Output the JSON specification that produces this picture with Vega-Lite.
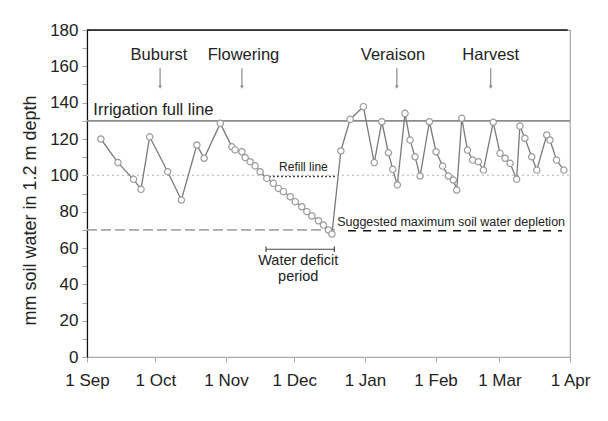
{
  "$schema": "https://vega.github.io/schema/vega-lite/v6.json",
  "width": 483,
  "height": 327,
  "autosize": {"type": "none"},
  "padding": {"left": 87, "top": 30, "right": 38, "bottom": 64},
  "config": {
    "font": "Liberation Sans",
    "view": {"stroke": "#aaaaaa", "strokeWidth": 1.2},
    "text": {"font": "Liberation Sans", "color": "#222222"}
  },
  "encoding": {
    "x": {
      "field": "date", "type": "temporal",
      "scale": {"domain": [{"year": 2022, "month": 9, "date": 1}, {"year": 2023, "month": 4, "date": 1}]},
      "axis": {
        "title": null,
        "values": [
          {"year": 2022, "month": 9, "date": 1}, {"year": 2022, "month": 10, "date": 1},
          {"year": 2022, "month": 11, "date": 1}, {"year": 2022, "month": 12, "date": 1},
          {"year": 2023, "month": 1, "date": 1}, {"year": 2023, "month": 2, "date": 1},
          {"year": 2023, "month": 3, "date": 1}, {"year": 2023, "month": 4, "date": 1}
        ],
        "format": "%-d %b",
        "grid": false,
        "domainColor": "#aaaaaa", "domainWidth": 1.2,
        "tickColor": "#aaaaaa", "tickSize": 5,
        "labelFontSize": 17, "labelColor": "#222222", "labelPadding": 10,
        "labelFlush": false, "labelOverlap": false
      }
    },
    "y": {
      "field": "value", "type": "quantitative",
      "scale": {"domain": [0, 180], "nice": false},
      "axis": {
        "title": "mm soil water in 1.2 m depth",
        "values": [0, 10, 20, 30, 40, 50, 60, 70, 80, 90, 100, 110, 120, 130, 140, 150, 160, 170, 180],
        "labelExpr": "datum.value % 20 === 0 ? datum.label : ''",
        "grid": false,
        "domainColor": "#111111", "domainWidth": 1.2,
        "tickColor": "#aaaaaa", "tickSize": 5,
        "labelFontSize": 17, "labelColor": "#222222", "labelPadding": 4,
        "titleFontSize": 18, "titleFontWeight": "normal", "titleColor": "#222222",
        "titleX": -52, "titleY": 180, "titleAngle": -90, "titleAlign": "center", "titleBaseline": "alphabetic"
      }
    }
  },
  "layer": [
    {
      "data": {"values": [{"date": "2022-09-01T00:00", "date2": "2023-04-01T00:00", "value": 130}]},
      "mark": {"type": "rule", "color": "#8c8c8c", "strokeWidth": 1.6},
      "encoding": {"x2": {"field": "date2"}}
    },
    {
      "data": {"values": [{"date": "2022-09-01T00:00", "date2": "2023-04-01T00:00", "value": 100}]},
      "mark": {"type": "rule", "color": "#c4c4c4", "strokeWidth": 1.4, "strokeDash": [2, 3]},
      "encoding": {"x2": {"field": "date2"}}
    },
    {
      "data": {"values": [{"date": "2022-09-01T00:00", "date2": "2022-12-19T00:00", "value": 70}]},
      "mark": {"type": "rule", "color": "#a8a8a8", "strokeWidth": 1.6, "strokeDash": [10, 4]},
      "encoding": {"x2": {"field": "date2"}}
    },
    {
      "data": {"values": [{"date": "2022-11-18T05:00", "date2": "2022-12-18T22:00", "value": 99.3}]},
      "mark": {"type": "rule", "color": "#111111", "strokeWidth": 1.5, "strokeDash": [1.5, 2.5]},
      "encoding": {"x2": {"field": "date2"}}
    },
    {
      "data": {"values": [{"date": "2022-12-24T14:00", "date2": "2023-03-28T12:00", "value": 69.5}]},
      "mark": {"type": "rule", "color": "#111111", "strokeWidth": 1.3, "strokeDash": [8, 7]},
      "encoding": {"x2": {"field": "date2"}}
    },
    {
      "data": {"values": [{"date": "2022-09-01T00:00", "date2": "2023-03-31T00:00", "value": 180}]},
      "mark": {"type": "rule", "color": "#111111", "strokeWidth": 1.4},
      "encoding": {"x2": {"field": "date2"}}
    },
    {
      "data": {"name": "soil"},
      "mark": {"type": "line", "color": "#7a7a7a", "strokeWidth": 1.3}
    },
    {
      "data": {"name": "soil"},
      "mark": {"type": "point", "shape": "circle", "filled": true, "fill": "#ffffff", "stroke": "#9a9a9a", "strokeWidth": 1.2, "size": 40, "opacity": 1}
    },
    {
      "data": {"values": [
        {"label": "Buburst", "date": "2022-10-02T14:00", "value": 166},
        {"label": "Flowering", "date": "2022-11-08T17:00", "value": 166},
        {"label": "Veraison", "date": "2023-01-13T07:00", "value": 166},
        {"label": "Harvest", "date": "2023-02-25T05:00", "value": 166}
      ]},
      "mark": {"type": "text", "fontSize": 16.5, "align": "center", "baseline": "middle"},
      "encoding": {"text": {"field": "label"}}
    },
    {
      "data": {"values": [
        {"date": "2022-10-03T02:00", "value": 159, "value2": 149},
        {"date": "2022-11-08T00:00", "value": 159, "value2": 149},
        {"date": "2023-01-15T00:00", "value": 159, "value2": 149},
        {"date": "2023-02-25T05:00", "value": 159, "value2": 149}
      ]},
      "mark": {"type": "rule", "color": "#8a8a8a", "strokeWidth": 1.2},
      "encoding": {"y2": {"field": "value2"}}
    },
    {
      "data": {"values": [
        {"date": "2022-10-03T02:00", "value": 148.5},
        {"date": "2022-11-08T00:00", "value": 148.5},
        {"date": "2023-01-15T00:00", "value": 148.5},
        {"date": "2023-02-25T05:00", "value": 148.5}
      ]},
      "mark": {"type": "point", "shape": "triangle-down", "filled": true, "color": "#8a8a8a", "size": 14, "opacity": 1}
    },
    {
      "data": {"values": [{"label": "Irrigation full line", "date": "2022-09-03T19:00", "value": 136}]},
      "mark": {"type": "text", "fontSize": 16.5, "align": "left", "baseline": "middle"},
      "encoding": {"text": {"field": "label"}}
    },
    {
      "data": {"values": [{"label": "Refill line", "date": "2022-12-05T00:00", "value": 104.7}]},
      "mark": {"type": "text", "fontSize": 12, "align": "center", "baseline": "middle"},
      "encoding": {"text": {"field": "label"}}
    },
    {
      "data": {"values": [{"label": "Suggested maximum soil water depletion", "date": "2022-12-19T19:00", "value": 74.5}]},
      "mark": {"type": "text", "fontSize": 12.5, "align": "left", "baseline": "middle"},
      "encoding": {"text": {"field": "label"}}
    },
    {
      "data": {"values": [
        {"label": "Water deficit", "date": "2022-12-02T17:00", "value": 52.6},
        {"label": "period", "date": "2022-12-02T17:00", "value": 43.9}
      ]},
      "mark": {"type": "text", "fontSize": 14.5, "align": "center", "baseline": "middle"},
      "encoding": {"text": {"field": "label"}}
    },
    {
      "data": {"values": [{"date": "2022-11-18T14:00", "date2": "2022-12-18T14:00", "value": 59.3}]},
      "mark": {"type": "rule", "color": "#444444", "strokeWidth": 1.2},
      "encoding": {"x2": {"field": "date2"}}
    },
    {
      "data": {"values": [
        {"date": "2022-11-18T14:00", "value": 57.8, "value2": 60.8},
        {"date": "2022-12-18T14:00", "value": 57.8, "value2": 60.8}
      ]},
      "mark": {"type": "rule", "color": "#444444", "strokeWidth": 1.2},
      "encoding": {"y2": {"field": "value2"}}
    }
  ],
  "datasets": {
    "soil": [
      {"date": "2022-09-07T02:00", "value": 120},
      {"date": "2022-09-14T14:00", "value": 107},
      {"date": "2022-09-21T10:00", "value": 97.8},
      {"date": "2022-09-24T17:00", "value": 92.3},
      {"date": "2022-09-28T12:00", "value": 121.2},
      {"date": "2022-10-06T10:00", "value": 102},
      {"date": "2022-10-12T10:00", "value": 86.4},
      {"date": "2022-10-19T05:00", "value": 116.7},
      {"date": "2022-10-22T10:00", "value": 109.4},
      {"date": "2022-10-29T12:00", "value": 128.6},
      {"date": "2022-11-03T14:00", "value": 115.7},
      {"date": "2022-11-05T00:00", "value": 114},
      {"date": "2022-11-08T00:00", "value": 113},
      {"date": "2022-11-09T10:00", "value": 109.7},
      {"date": "2022-11-11T14:00", "value": 107.5},
      {"date": "2022-11-13T19:00", "value": 105.2},
      {"date": "2022-11-16T00:00", "value": 102},
      {"date": "2022-11-18T22:00", "value": 98.3},
      {"date": "2022-11-21T19:00", "value": 95.6},
      {"date": "2022-11-24T00:00", "value": 92.8},
      {"date": "2022-11-26T05:00", "value": 91},
      {"date": "2022-11-29T05:00", "value": 88.2},
      {"date": "2022-12-01T10:00", "value": 85.5},
      {"date": "2022-12-04T07:00", "value": 82.7},
      {"date": "2022-12-06T12:00", "value": 80},
      {"date": "2022-12-08T17:00", "value": 77.6},
      {"date": "2022-12-11T14:00", "value": 75},
      {"date": "2022-12-13T19:00", "value": 72.6},
      {"date": "2022-12-16T00:00", "value": 69.9},
      {"date": "2022-12-17T12:00", "value": 67.7},
      {"date": "2022-12-21T10:00", "value": 113.4},
      {"date": "2022-12-25T12:00", "value": 130.8},
      {"date": "2022-12-31T07:00", "value": 137.8},
      {"date": "2023-01-05T02:00", "value": 107},
      {"date": "2023-01-08T10:00", "value": 129.5},
      {"date": "2023-01-11T07:00", "value": 112.4},
      {"date": "2023-01-13T05:00", "value": 103.3},
      {"date": "2023-01-15T05:00", "value": 94.7},
      {"date": "2023-01-18T14:00", "value": 134.1},
      {"date": "2023-01-20T19:00", "value": 119.4},
      {"date": "2023-01-23T00:00", "value": 110.2},
      {"date": "2023-01-25T05:00", "value": 99.6},
      {"date": "2023-01-29T07:00", "value": 129.5},
      {"date": "2023-02-01T05:00", "value": 113},
      {"date": "2023-02-04T02:00", "value": 105.1},
      {"date": "2023-02-06T14:00", "value": 99.6},
      {"date": "2023-02-08T19:00", "value": 97.4},
      {"date": "2023-02-10T07:00", "value": 91.9},
      {"date": "2023-02-12T12:00", "value": 131.4},
      {"date": "2023-02-15T00:00", "value": 113.9},
      {"date": "2023-02-17T07:00", "value": 108.4},
      {"date": "2023-02-19T19:00", "value": 107.5},
      {"date": "2023-02-22T00:00", "value": 102.9},
      {"date": "2023-02-26T07:00", "value": 129.2},
      {"date": "2023-03-01T07:00", "value": 112.1},
      {"date": "2023-03-03T12:00", "value": 109.4},
      {"date": "2023-03-05T17:00", "value": 106.6},
      {"date": "2023-03-08T14:00", "value": 97.8},
      {"date": "2023-03-10T00:00", "value": 127.1},
      {"date": "2023-03-12T05:00", "value": 120.4},
      {"date": "2023-03-15T05:00", "value": 110.2},
      {"date": "2023-03-17T10:00", "value": 102.9},
      {"date": "2023-03-21T19:00", "value": 122.2},
      {"date": "2023-03-23T05:00", "value": 119.4},
      {"date": "2023-03-26T02:00", "value": 108.4},
      {"date": "2023-03-29T07:00", "value": 102.9}
    ]
  }
}
